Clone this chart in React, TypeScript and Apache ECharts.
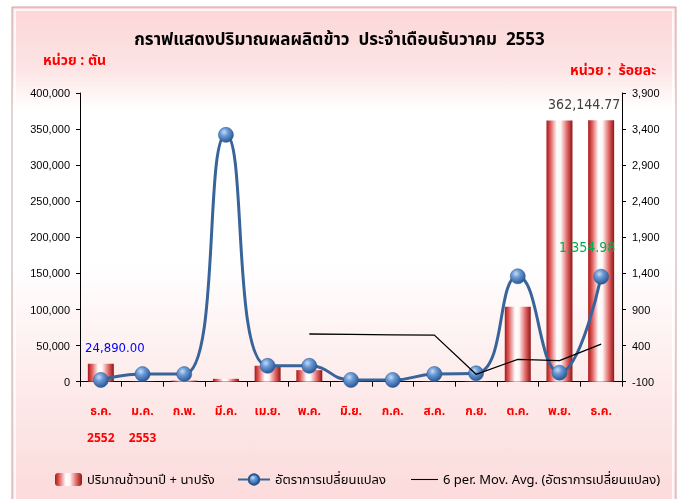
import React, { useEffect, useRef } from "react";
import * as echarts from "echarts";

const categories = ["ธ.ค.\n2552", "ม.ค.\n2553", "ก.พ.", "มี.ค.", "เม.ย.", "พ.ค.", "มิ.ย.", "ก.ค.", "ส.ค.", "ก.ย.", "ต.ค.", "พ.ย.", "ธ.ค."];
const riceTons = [24890, 300, 1500, 4000, 22000, 16000, 300, 200, 300, 400, 104000, 362000, 362144.77];
const changePct = [-76, 5, 5, 3320, 120, 120, -76, -76, 7, 16, 1360, 25, 1354.98];
const movAvg6 = [null, null, null, null, null, 561, 556, 550, 545, 3, 210, 191, 422];
const leftTicks = { min: 0, max: 400000, interval: 50000 };
const rightTicks = { min: -100, max: 3900, interval: 500 };

const THAI = "'Noto Sans Thai', 'Tahoma', 'Loma', 'Garuda', 'Noto Sans', sans-serif";
const NUM = "'Liberation Sans', Arial, sans-serif";
const NARROW = "'Liberation Sans Narrow', 'DejaVu Sans Condensed', sans-serif";

const S_BAR = "ปริมาณข้าวนาปี + นาปรัง";
const S_LINE = "อัตราการเปลี่ยนแปลง";
const S_MA = "6 per. Mov. Avg. (อัตราการเปลี่ยนแปลง)";

export default function App() {
  const ref = useRef<HTMLDivElement>(null);
  useEffect(() => {
    if (!ref.current) return;
    const chart = echarts.init(ref.current, null, { renderer: "svg" });
    const barGrad = new echarts.graphic.LinearGradient(0, 0, 1, 0, [
      { offset: 0, color: "#a81818" },
      { offset: 0.15, color: "#e05a5a" },
      { offset: 0.4, color: "#ffffff" },
      { offset: 0.55, color: "#fff4f4" },
      { offset: 0.8, color: "#e06464" },
      { offset: 1, color: "#8e1616" },
    ]);
    const ballGrad = new echarts.graphic.RadialGradient(0.38, 0.32, 0.75, [
      { offset: 0, color: "#c4dcf6" },
      { offset: 0.35, color: "#6b9bd6" },
      { offset: 1, color: "#1f4d8a" },
    ]);
    const bgGrad = new echarts.graphic.LinearGradient(0, 0, 0, 1, [
      { offset: 0, color: "#fcd6d7" },
      { offset: 0.12, color: "#fde4e4" },
      { offset: 0.2, color: "#ffffff" },
      { offset: 0.5, color: "#ffffff" },
      { offset: 0.75, color: "#fdeaea" },
      { offset: 0.95, color: "#fcdcdc" },
      { offset: 1, color: "#fcdcdc" },
    ]);

    chart.setOption({
      animation: false,
      graphic: {
        elements: [
          { type: "rect", z: -100, shape: { x: 12, y: 7, width: 664, height: 510 }, style: { fill: bgGrad, stroke: "#c9a3a3", lineWidth: 1 } },
          { type: "rect", z: -99, shape: { x: 15, y: 10, width: 658, height: 500 }, style: { fill: "none", stroke: "rgba(255,255,255,0.8)", lineWidth: 2 } },
          { type: "text", z: 10, left: "center", top: 31, style: { text: "กราฟแสดงปริมาณผลผลิตข้าว  ประจำเดือนธันวาคม  2553", font: `bold 17px ${THAI}`, fill: "#000000" } },
          { type: "text", z: 10, left: 43, top: 53, style: { text: "หน่วย : ตัน", font: `bold 14px ${THAI}`, fill: "#ff0000" } },
          { type: "text", z: 10, left: 570, top: 63, style: { text: "หน่วย :  ร้อยละ", font: `bold 14px ${THAI}`, fill: "#ff0000" } },
        ],
      },
      legend: [
        { left: 50, top: 468, itemWidth: 27, itemHeight: 13, data: [S_BAR], textStyle: { fontFamily: THAI, fontSize: 13, color: "#000" } },
        { left: 232, top: 468, itemWidth: 32, itemHeight: 13, data: [S_LINE], textStyle: { fontFamily: THAI, fontSize: 13, color: "#000" } },
        { left: 406, top: 468, itemWidth: 27, itemHeight: 13, data: [{ name: S_MA, icon: "path://M0 0H30V1.2H0Z" }], textStyle: { fontFamily: THAI, fontSize: 13, color: "#000" } },
      ],
      grid: { left: 80, right: 57, top: 93, bottom: 117.3, containLabel: false },
      xAxis: {
        type: "category",
        data: categories,
        axisLine: { lineStyle: { color: "#000", width: 1 } },
        axisTick: { show: true, length: 5, interval: 0, lineStyle: { color: "#000" } },
        axisLabel: { interval: 0, color: "#ff0000", fontFamily: THAI, fontSize: 12, fontWeight: "bold", margin: 16, lineHeight: 27 },
      },
      yAxis: [
        {
          type: "value", position: "left", ...leftTicks,
          splitLine: { show: false },
          axisLine: { show: true, lineStyle: { color: "#000" } },
          axisTick: { show: true, length: 4, lineStyle: { color: "#000" } },
          axisLabel: { color: "#000", fontFamily: NUM, fontSize: 11, margin: 10, formatter: (v: number) => v.toLocaleString("en-US") },
        },
        {
          type: "value", position: "right", ...rightTicks,
          splitLine: { show: false },
          axisLine: { show: true, lineStyle: { color: "#000" } },
          axisTick: { show: true, length: 4, lineStyle: { color: "#000" } },
          axisLabel: { color: "#000", fontFamily: NUM, fontSize: 11, margin: 10, formatter: (v: number) => v.toLocaleString("en-US") },
        },
      ],
      series: [
        {
          name: S_BAR,
          type: "bar",
          yAxisIndex: 0,
          barWidth: 26,
          itemStyle: { color: barGrad },
          data: riceTons.map((v, i) => {
            if (i === 0)
              return { value: v, label: { show: true, position: "top", distance: 10, offset: [14, 0], formatter: "24,890.00", color: "#0000ff", fontFamily: NARROW, fontSize: 13 } };
            if (i === riceTons.length - 1)
              return { value: v, label: { show: true, position: "top", distance: 9, offset: [-17, 0], formatter: "362,144.77", color: "#404040", fontFamily: NARROW, fontSize: 14 } };
            return v;
          }),
        },
        {
          name: S_LINE,
          type: "line",
          yAxisIndex: 1,
          smooth: 0.5,
          symbol: "circle",
          symbolSize: 15,
          lineStyle: { color: "#386499", width: 3 },
          itemStyle: { color: ballGrad, borderColor: "#2a5690", borderWidth: 0.5 },
          z: 3,
          data: changePct.map((v, i) =>
            i === changePct.length - 1
              ? { value: v, label: { show: true, position: "top", distance: 5, offset: [-14, -10], formatter: "1,354.98", color: "#00b050", fontFamily: NARROW, fontSize: 14 } }
              : v
          ),
        },
        {
          name: S_MA,
          type: "line",
          yAxisIndex: 1,
          symbol: "none",
          lineStyle: { color: "#000000", width: 1.3 },
          itemStyle: { color: "#000000" },
          z: 4,
          data: movAvg6,
        },
      ],
    });
    return () => chart.dispose();
  }, []);
  return <div ref={ref} style={{ position: "fixed", left: 0, top: 0, width: 679, height: 499 }} />;
}
